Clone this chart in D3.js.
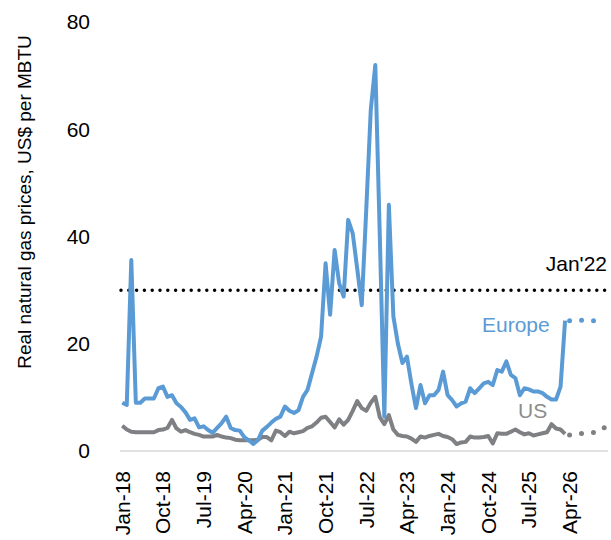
<!DOCTYPE html>
<meta charset="utf-8">
<style>
body { margin: 0; background: #fff; }
text { font-family: "Liberation Sans", Arial, sans-serif; }
.axis-line { stroke: #d9d9d9; stroke-width: 1.5; }
.tick-label { font-size: 21px; fill: #000; }
.europe { fill: none; stroke: #5b9bd5; stroke-width: 4; stroke-linejoin: round; }
.us { fill: none; stroke: #7f8083; stroke-width: 4; stroke-linejoin: round; }
.forecast { fill: none; stroke-width: 5; stroke-linecap: round; stroke-dasharray: 0 12; }
.ref-line { stroke: #000; stroke-width: 3.5; stroke-linecap: round; stroke-dasharray: 0 7.8; }
</style>
<svg width="611" height="540"></svg>
<script src="https://d3js.org/d3.v7.min.js"></script>
<script>

// monthly, Jan-18 onwards
var europe = [
  9.0, 8.6, 35.6, 9.0, 9.0, 9.8, 9.8, 9.8, 11.7, 12.0,
  10.1, 10.4, 8.9, 8.2, 7.2, 5.8, 6.1, 4.4, 4.6, 3.9,
  3.4, 4.3, 5.2, 6.4, 4.3, 3.9, 3.8, 2.6, 2.0, 1.3,
  2.0, 3.8, 4.5, 5.3, 6.0, 6.4, 8.3, 7.5, 7.1, 7.6,
  10.1, 11.4, 14.5, 17.6, 21.3, 35.0, 25.4, 37.5, 31.3, 28.8,
  43.1, 40.6, 34.0, 27.2, 45.0, 63.6, 72.0, 40.0, 6.4, 45.9,
  25.1, 20.0, 16.4, 17.6, 12.5, 8.0, 12.3, 8.9, 10.4, 10.4,
  11.4, 14.8, 10.4, 9.5, 8.3, 8.9, 9.2, 11.7, 10.8, 11.7,
  12.6, 12.9, 12.3, 15.1, 14.8, 16.7, 14.2, 13.6, 10.4, 11.7,
  11.5, 11.1, 11.1, 10.8, 10.1, 9.6, 9.6, 12.0, 24.3
];

var us = [
  4.7, 4.0, 3.6, 3.5, 3.5, 3.5, 3.5, 3.5, 3.9, 4.0,
  4.3, 5.8, 4.2, 3.6, 3.9, 3.5, 3.2, 3.0, 2.7, 2.7,
  2.7, 3.0, 2.7, 2.5, 2.4, 2.1, 2.0, 2.0, 2.0, 2.0,
  2.1, 2.6, 2.6, 2.0, 3.8, 3.5, 2.8, 3.6, 3.3, 3.5,
  3.7, 4.3, 4.6, 5.3, 6.2, 6.4, 5.4, 4.4, 5.9, 4.9,
  5.8, 7.5, 9.3, 8.0, 7.5, 9.0, 10.1, 6.3, 5.0, 6.7,
  4.0, 3.0, 2.8, 2.7, 2.3, 1.7, 2.7, 2.5, 2.8, 3.0,
  3.2, 2.8, 2.6, 2.2, 1.3, 1.6, 1.7, 2.7, 2.5, 2.5,
  2.6, 2.8, 1.4, 3.3, 3.2, 3.2, 3.6, 4.0, 3.5, 3.1,
  3.3, 2.9, 3.1, 3.3, 3.5, 5.0, 4.2, 4.0, 3.2
];

// forecasts start Apr-26
var europeForecast = [24.3, 24.3, 24.4, 24.4, 24.3, 24.3, 24.3];
var usForecast = [3.0, 3.1, 3.2, 3.3, 3.3, 3.4, 3.5, 4.0, 4.5];

var jan22Level = 30;

var yTicks = [0, 20, 40, 60, 80];
var tickLabels = ["Jan-18", "Oct-18", "Jul-19", "Apr-20", "Jan-21", "Oct-21",
                  "Jul-22", "Apr-23", "Jan-24", "Oct-24", "Jul-25", "Apr-26"];

var months = d3.timeMonth.range(new Date(2018, 0, 1), new Date(2027, 0, 1));

var svg = d3.select("svg"),
    plotLeft = 120, plotRight = 608, plotTop = 22, plotBottom = 451;

var x = d3.scaleBand()
    .domain(d3.range(months.length))
    .range([plotLeft, plotRight]);

var y = d3.scaleLinear()
    .domain([0, 80])
    .range([plotBottom, plotTop]);

function cx(i) { return x(i) + x.bandwidth() / 2; }

var line = d3.line()
    .x(function(d) { return cx(d[0]); })
    .y(function(d) { return y(d[1]); });

function indexed(values, start) {
  return values.map(function(v, i) { return [start + i, v]; });
}

// y tick labels
svg.selectAll(".ytick")
  .data(yTicks)
  .enter().append("text")
    .attr("class", "tick-label")
    .attr("x", 90)
    .attr("y", function(d) { return y(d); })
    .attr("dy", "0.35em")
    .attr("text-anchor", "end")
    .text(function(d) { return d; });

svg.append("text")
    .attr("transform", "translate(31,202) rotate(-90)")
    .attr("text-anchor", "middle")
    .style("font-size", "19px")
    .text("Real natural gas prices, US$ per MBTU");

svg.append("line")
    .attr("class", "axis-line")
    .attr("x1", plotLeft).attr("x2", plotRight)
    .attr("y1", y(0)).attr("y2", y(0));

// x tick labels every 9 months
svg.selectAll(".xtick")
  .data(tickLabels)
  .enter().append("text")
    .attr("class", "tick-label")
    .attr("transform", function(d, i) {
      return "translate(" + cx(i * 9) + ",471) rotate(-90)";
    })
    .attr("dy", "0.35em")
    .attr("text-anchor", "end")
    .text(function(d) { return d; });

// Jan'22 reference
svg.append("line")
    .attr("class", "ref-line")
    .attr("x1", plotLeft + 1).attr("x2", plotRight)
    .attr("y1", y(jan22Level)).attr("y2", y(jan22Level));

svg.append("text")
    .attr("class", "tick-label")
    .attr("x", plotRight - 1)
    .attr("y", y(jan22Level) - 19)
    .attr("text-anchor", "end")
    .text("Jan'22");

svg.append("path")
    .datum(indexed(us, 0))
    .attr("class", "us")
    .attr("d", line);

svg.append("path")
    .datum(indexed(europe, 0))
    .attr("class", "europe")
    .attr("d", line);

svg.append("path")
    .datum(indexed(europeForecast, europe.length))
    .attr("class", "forecast")
    .attr("stroke", "#5b9bd5")
    .attr("d", line);

svg.append("path")
    .datum(indexed(usForecast, us.length))
    .attr("class", "forecast")
    .attr("stroke", "#7f8083")
    .attr("d", line);

svg.append("text")
    .attr("class", "tick-label")
    .attr("x", 482)
    .attr("y", 332)
    .style("fill", "#5b9bd5")
    .text("Europe");

svg.append("text")
    .attr("class", "tick-label")
    .attr("x", 518)
    .attr("y", 418)
    .style("fill", "#8c8c8c")
    .text("US");

</script>
